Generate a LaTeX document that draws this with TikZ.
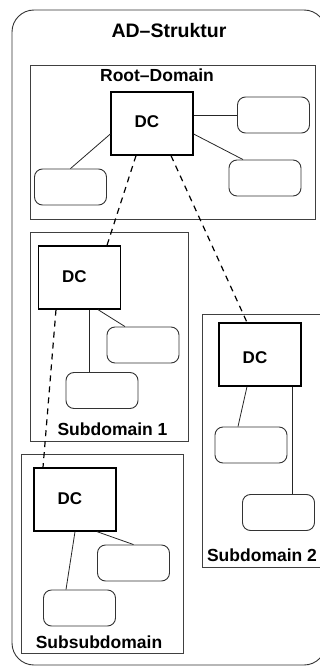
\documentclass[tikz,border=0pt]{standalone}
\usepackage{fontspec}
\setmainfont{Liberation Sans}
\begin{document}
\begin{tikzpicture}[x=1pt,y=-1pt,
  container/.style={draw=black!75,line width=0.9pt,rectangle,inner sep=0pt},
  dcbox/.style={draw=black,line width=1.3pt,rectangle,inner sep=0pt,minimum width=82pt,minimum height=63pt},
  rbox/.style={draw=black!80,line width=0.9pt,rectangle,rounded corners=8pt,inner sep=0pt,minimum width=72pt,minimum height=36pt},
  conn/.style={draw=black!85,line width=0.8pt},
  dashconn/.style={draw=black,line width=1.2pt,dash pattern=on 6pt off 5pt},
  dctext/.style={font=\fontsize{17}{20}\selectfont\bfseries,inner sep=0pt,anchor=base},
  lbl/.style={font=\fontsize{17.5}{20}\selectfont\bfseries,inner sep=0pt,anchor=base}
]
\useasboundingbox (0,0) rectangle (320,666);
\clip (0,0) rectangle (320,666);
% outer
\node[draw=black!80,line width=0.9pt,rounded corners=22pt,inner sep=0pt,minimum width=314pt,minimum height=655pt] (outer) at (169,337.5) {};
\node[font=\fontsize{19.5}{22}\selectfont\bfseries,inner sep=0pt,anchor=base] (title) at (169,38) {AD\textendash Struktur};
% containers
\node[container,minimum width=285pt,minimum height=154pt] (rootbox) at (172.5,142) {};
\node[container,minimum width=158pt,minimum height=209pt] (sub1box) at (109,336.5) {};
\node[container,minimum width=162pt,minimum height=199pt] (ssbox) at (102,553.5) {};
\node[container,minimum width=123pt,minimum height=253pt] (sub2box) at (263.5,440.5) {};
\node[lbl] (rootlbl) at (157,82) {Root\textendash Domain};
\node[lbl] (sub1lbl) at (112.5,435) {Subdomain 1};
\node[lbl] (sub2lbl) at (262,561) {Subdomain 2};
\node[lbl] (sslbl) at (99,648) {Subsubdomain};
% DC boxes
\node[dcbox] (rootdc) at (152,123.5) {};
\node[dcbox] (sub1dc) at (79.5,277.5) {};
\node[dcbox] (sub2dc) at (260,354.5) {};
\node[dcbox] (ssdc) at (75,499.5) {};
\node[dctext] (rootdct) at (147,128) {DC};
\node[dctext] (sub1dct) at (74.5,282) {DC};
\node[dctext] (sub2dct) at (255,363) {DC};
\node[dctext] (ssdct) at (70,504) {DC};
% rounded boxes
\node[rbox] (rt) at (273.5,115) {};
\node[rbox] (rb) at (265,178) {};
\node[rbox] (lb) at (70.5,187) {};
\node[rbox] (sr) at (143,345) {};
\node[rbox] (sb) at (102,390.5) {};
\node[rbox] (ssr) at (133.5,563) {};
\node[rbox] (ssb) at (79.5,608) {};
\node[rbox] (s2u) at (251,445) {};
\node[rbox] (s2l) at (278.5,512.5) {};
% connectors
\draw[conn] (rootdc.east |- rt.west) -- (rt.west);
\draw[conn] ([yshift=-10.5]rootdc.east) -- ([xshift=-22]rb.north);
\draw[conn] ([yshift=-10.5]rootdc.west) -- (lb.north);
\draw[conn] ([xshift=9.5]sub1dc.south) -- ([xshift=9.5]sub1dc.south |- sb.north);
\draw[conn] ([xshift=18.5]sub1dc.south) -- ([xshift=-18]sr.north);
\draw[conn] (ssdc.south) -- ([xshift=-13.5]ssb.north);
\draw[conn] ([xshift=22]ssdc.south) -- (ssr.north);
\draw[conn] ([xshift=-13]sub2dc.south) -- ([xshift=-13]s2u.north);
\draw[conn] ([xshift=32]sub2dc.south) -- ([xshift=32]sub2dc.south |- s2l.north);
% dashed
\draw[dashconn,dash phase=0pt] ([xshift=-16]rootdc.south) -- ([xshift=27.5]sub1dc.north);
\draw[dashconn] ([xshift=19]rootdc.south) -- ([xshift=-13]sub2dc.north);
\draw[dashconn] ([xshift=-23.5]sub1dc.south) -- ([xshift=-32]ssdc.north);
\end{tikzpicture}
\end{document}
